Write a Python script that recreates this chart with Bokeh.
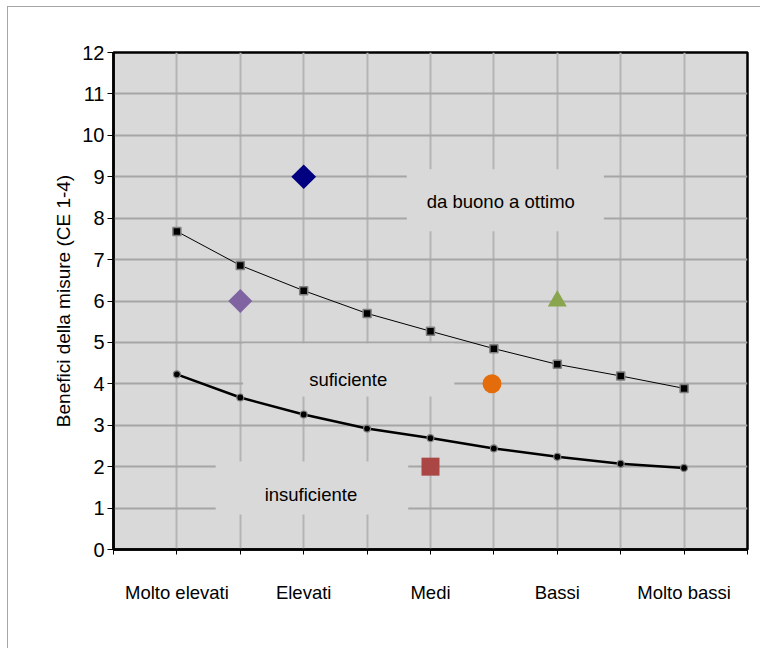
import math
from bokeh.plotting import figure
from bokeh.models import Label, FixedTicker
from bokeh.embed import file_html
from bokeh.resources import INLINE

# ---------------- data ----------------
categories = ["Molto elevati", "Elevati", "Medi", "Bassi", "Molto bassi"]
category_pos = [1, 3, 5, 7, 9]
x_steps = [1, 2, 3, 4, 5, 6, 7, 8, 9]
upper_limit = [7.68, 6.86, 6.25, 5.70, 5.27, 4.85, 4.47, 4.19, 3.89]
lower_limit = [4.23, 3.67, 3.26, 2.92, 2.69, 2.44, 2.24, 2.07, 1.97]
measure_x = [3, 2, 7, 5.97, 5]
measure_y = [9, 6, 6, 4, 2]
measure_colors = ["#000080", "#8064a2", "#89a54e", "#e46c0a", "#aa4643"]
zone_labels = ["da buono a ottimo", "suficiente", "insuficiente"]
y_title = "Benefici della misure (CE 1-4)"
y_ticks = list(range(0, 13))
x_ticks = list(range(0, 11))

FONT = "Liberation Sans"

p = figure(width=753, height=642, x_range=(0, 10), y_range=(0, 12),
           output_backend="svg", toolbar_location=None,
           min_border_left=105, min_border_right=14,
           min_border_top=45, min_border_bottom=100)
p.margin = (6, 0, 0, 7)
p.styles = {"border-left": "1px solid #a6a6a6", "border-top": "1px solid #a6a6a6"}

p.background_fill_color = "#d9d9d9"
p.border_fill_color = "white"
p.outline_line_color = "black"
p.outline_line_width = 2.5

# grids
p.xgrid.ticker = FixedTicker(ticks=x_ticks)
p.ygrid.ticker = FixedTicker(ticks=y_ticks)
p.xgrid.grid_line_color = "#b4b4b4"
p.xgrid.grid_line_width = 2
p.ygrid.grid_line_color = "#a6a6a6"
p.ygrid.grid_line_width = 2

# x axis
p.xaxis.ticker = FixedTicker(ticks=x_ticks)
overrides = {t: "" for t in x_ticks}
for pos, name in zip(category_pos, categories):
    overrides[pos] = name
p.xaxis.major_label_overrides = overrides
p.xaxis.major_label_text_font = FONT
p.xaxis.major_label_text_font_size = "18.5px"
p.xaxis.major_label_text_color = "black"
p.xaxis.major_label_standoff = 27
p.xaxis.major_tick_out = 5
p.xaxis.major_tick_in = 0
p.xaxis.major_tick_line_color = "black"
p.xaxis.minor_tick_line_color = None
p.xaxis.axis_line_color = "black"
p.xaxis.axis_line_width = 2.5

# y axis
p.yaxis.ticker = FixedTicker(ticks=y_ticks)
p.yaxis.major_label_text_font = FONT
p.yaxis.major_label_text_font_size = "20px"
p.yaxis.major_label_text_color = "black"
p.yaxis.major_label_standoff = 3
p.yaxis.major_tick_out = 6
p.yaxis.major_tick_in = 0
p.yaxis.major_tick_line_color = "black"
p.yaxis.minor_tick_line_color = None
p.yaxis.axis_line_color = "black"
p.yaxis.axis_line_width = 2.5
p.yaxis.axis_label = y_title
p.yaxis.axis_label_text_font = FONT
p.yaxis.axis_label_text_font_size = "19px"
p.yaxis.axis_label_text_font_style = "normal"
p.yaxis.axis_label_text_color = "black"
p.yaxis.axis_label_standoff = 5

# limit curves
p.line(x_steps, upper_limit, line_color="black", line_width=1)
p.scatter(x_steps, upper_limit, marker="square", size=8, fill_color="black",
          line_color="#808080", line_width=1.5)
p.line(x_steps, lower_limit, line_color="black", line_width=2.5)
p.scatter(x_steps, lower_limit, marker="circle", size=7, fill_color="black",
          line_color="#808080", line_width=1.2)

# individual measures
p.scatter([measure_x[0]], [measure_y[0]], marker="square", angle=math.pi / 4,
          size=17.5, fill_color=measure_colors[0], line_color=None)
p.scatter([measure_x[1]], [measure_y[1]], marker="square", angle=math.pi / 4,
          size=17, fill_color=measure_colors[1], line_color=None)
p.scatter([measure_x[2]], [measure_y[2]], marker="triangle",
          size=19, fill_color=measure_colors[2], line_color=None)
p.scatter([measure_x[3]], [measure_y[3]], marker="circle",
          size=19, fill_color=measure_colors[3], line_color=None)
p.scatter([measure_x[4]], [measure_y[4]], marker="square",
          size=18, fill_color=measure_colors[4], line_color=None)

# zone labels (boxes with plot background hide the grid behind)
label_specs = [
    (6.18, 8.435, dict(left=20, right=29, top=22, bottom=19)),
    (3.71, 4.334, dict(left=66, right=67, top=25, bottom=7)),
    (3.13, 1.485, dict(left=49, right=51, top=23, bottom=9)),
]
for txt, (lx, ly, pad) in zip(zone_labels, label_specs):
    p.add_layout(Label(x=lx, y=ly, text=txt, text_font=FONT,
                       text_font_size="18.5px", text_color="black",
                       text_align="center", text_baseline="middle",
                       background_fill_color="#d9d9d9", padding=pad))

open("out.html", "w").write(file_html(p, INLINE))
